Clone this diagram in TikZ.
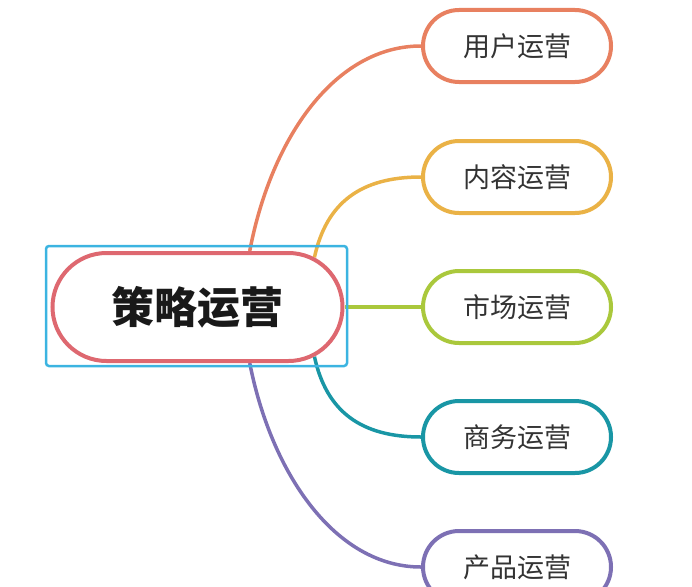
\documentclass[tikz,border=0pt]{standalone}
\usepackage{fontspec}
\newfontfamily\cjk{Noto Sans CJK SC}
\usetikzlibrary{shapes.misc,backgrounds}
\definecolor{corange}{RGB}{232,128,96}
\definecolor{cyellow}{RGB}{234,178,70}
\definecolor{cgreen}{RGB}{170,200,60}
\definecolor{cteal}{RGB}{25,150,165}
\definecolor{cpurple}{RGB}{125,112,180}
\definecolor{cred}{RGB}{222,104,112}
\definecolor{cblue}{RGB}{60,180,225}
\definecolor{ctext}{RGB}{51,51,51}
\tikzset{
  mainpill/.style={rounded rectangle, draw=cred, line width=4pt, fill=white,
    minimum width=290pt, minimum height=108pt, inner sep=0pt,
    font=\cjk\bfseries\fontsize{43}{50}\selectfont, text=black!90},
  selbox/.style={draw=cblue, line width=2.5pt, rounded corners=3pt,
    minimum width=301pt, minimum height=120pt, inner sep=0pt},
  branch/.style={rounded rectangle, line width=4pt, fill=white,
    minimum width=188pt, minimum height=72pt, inner sep=0pt,
    font=\cjk\fontsize{27}{32}\selectfont, text=ctext},
  conn/.style={line width=3.5pt}
}
\begin{document}
\begin{tikzpicture}[x=1pt,y=-1pt]
\useasboundingbox (0,0) rectangle (692,586);
\node[mainpill] (main) at (197.5,307) {策略运营};
\node[selbox] (sel) at (196.5,306) {};
\node[branch, draw=corange] (b1) at (517,46) {用户运营};
\node[branch, draw=cyellow] (b2) at (517,177) {内容运营};
\node[branch, draw=cgreen] (b3) at (517,307) {市场运营};
\node[branch, draw=cteal] (b4) at (517,437) {商务运营};
\node[branch, draw=cpurple] (b5) at (517,567) {产品运营};
\begin{pgfonlayer}{background}
\draw[conn, corange] (main.47) .. controls +(22,-115) and +(-85,0) .. (b1.west);
\draw[conn, cyellow] (main.23) .. controls +(12,-55) and +(-60,0) .. (b2.west);
\draw[conn, cgreen] (main.east) -- (b3.west);
\draw[conn, cteal] (main.-23) .. controls +(12,55) and +(-60,0) .. (b4.west);
\draw[conn, cpurple] (main.-47) .. controls +(22,112) and +(-85,0) .. (b5.west);
\end{pgfonlayer}
\end{tikzpicture}
\end{document}
